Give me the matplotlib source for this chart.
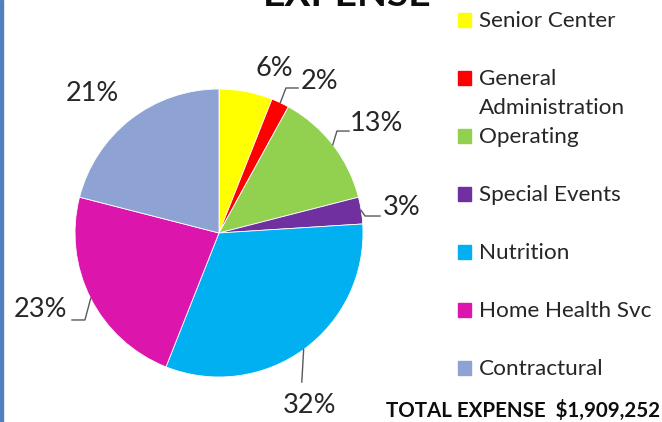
import numpy as np
import matplotlib
matplotlib.use("Agg")
import matplotlib.pyplot as plt
from matplotlib.patches import Rectangle

# expense breakdown (percent of total)
categories = ["Senior Center", "General\nAdministration", "Operating", "Special Events",
              "Nutrition", "Home Health Svc", "Contractural"]
shares = [6, 2, 13, 3, 32, 23, 21]
colors = ["#FFFF00", "#FF0000", "#92D050", "#7030A0", "#00B0F0", "#DC16AC", "#8EA3D4"]
total_label = "TOTAL EXPENSE  $1,909,252"

# label placement (data coords of the pie axes) and leader elbows
label_pos = [(0.382, 1.139), (0.701, 1.049), (1.097, 0.757), (1.271, 0.174),
             (0.632, -1.201), (-1.243, -0.528), (-0.882, 0.972)]
leaders = [None,
           [(0.465, 1.007), (0.549, 1.007)],
           [(0.819, 0.708), (0.903, 0.708)],
           [(1.014, 0.118), (1.118, 0.118)],
           [(0.575, -1.035)],
           [(-0.931, -0.604), (-1.021, -0.604)],
           None]

plt.rcParams['font.family'] = ['Lato', 'DejaVu Sans']
W, H = 662, 422
fig = plt.figure(figsize=(W / 100, H / 100), dpi=100)

# pie axes: circle centre (219,233) px, radius 144 px
cx, cy, r = 219, 233, 144
ax = fig.add_axes([(cx - r) / W, (H - cy - r) / H, 2 * r / W, 2 * r / H])
wedges, _ = ax.pie(shares, colors=colors, startangle=90, counterclock=False,
                   wedgeprops=dict(edgecolor="white", linewidth=0.6))
ax.set_xlim(-1, 1)
ax.set_ylim(-1, 1)
ax.set_aspect("auto")
ax.axis("off")

for w, v, pos, pts in zip(wedges, shares, label_pos, leaders):
    ax.text(pos[0], pos[1], f"{v}%", ha="center", va="center", fontsize=19.5,
            color="#262626", clip_on=False)
    if pts:
        mid = np.deg2rad((w.theta1 + w.theta2) / 2)
        xs = [np.cos(mid)] + [p[0] for p in pts]
        ys = [np.sin(mid)] + [p[1] for p in pts]
        ax.plot(xs, ys, color="#595959", lw=1, clip_on=False)

# legend drawn by hand (rows every 58 px starting at y=20)
for i, (lab, col) in enumerate(zip(categories, colors)):
    yc = 20 + 58 * i
    fig.patches.append(Rectangle((458 / W, 1 - (yc + 7) / H), 13 / W, 14 / H,
                                 transform=fig.transFigure, color=col))
    fig.text(479 / W, 1 - (yc - 9) / H, lab, ha="left", va="top", fontsize=16.2,
             color="#262626", linespacing=1.55)

fig.text(386 / W, 1 - 410 / H, total_label, ha="left", va="center", fontsize=14.8,
         fontweight="bold", color="#0d0d0d")
fig.text(347 / W, 1 - 6 / H, "EXPENSE", ha="center", va="baseline", fontsize=28,
         fontweight="bold", color="#0d0d0d")

# blue frame line on the left edge
fig.patches.append(Rectangle((0, 0), 2.5 / W, 1, transform=fig.transFigure,
                             color="#4F81BD"))

fig.savefig("out.png", dpi=100)
